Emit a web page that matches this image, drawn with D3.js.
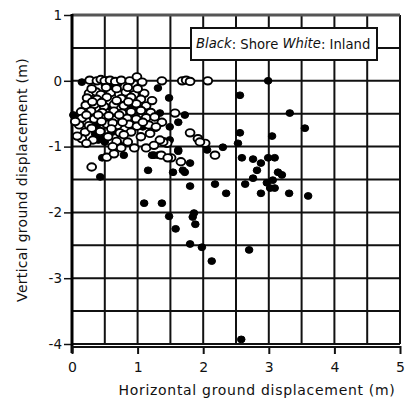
<!DOCTYPE html>
<html>
<head>
<meta charset="utf-8">
<script src="https://cdn.jsdelivr.net/npm/d3@7"></script>
<style>
  html, body { margin: 0; padding: 0; background: #fff; }
  svg { display: block; }
  text { font-family: "DejaVu Sans", Verdana, sans-serif; fill: #111; }
</style>
</head>
<body>
<svg id="chart" width="406" height="408"></svg>
<script>
// ---- data (metres) ----
const xTicks = [0, 1, 2, 3, 4, 5];
const yTicks = [1, 0, -1, -2, -3, -4];
const legendParts = [
  { t: "Black", italic: true },
  { t: ": Shore ", italic: false },
  { t: "White", italic: true },
  { t: ": Inland", italic: false }
];
const xLabel = "Horizontal ground displacement (m)";
const yLabel = "Vertical ground displacement (m)";

// Shore (black) points: [horizontal, vertical]
const shore = [
  [0.15,-0.02],[0.53,0.01],[0.61,-0.02],[0.70,-0.05],[0.50,-0.06],[0.62,-0.12],
  [1.31,-0.11],[2.99,0.0],[1.48,-0.26],[2.56,-0.22],[1.34,-0.49],[1.72,-0.52],
  [3.32,-0.49],[1.62,-0.63],[1.27,-0.72],[2.56,-0.79],[3.05,-0.84],[3.55,-0.72],
  [1.49,-0.90],[2.30,-1.01],[2.06,-1.05],[2.53,-0.95],[1.62,-1.07],[1.22,-1.13],
  [1.31,-1.13],[1.80,-1.25],[2.59,-1.17],[2.76,-1.19],[2.88,-1.25],[2.99,-1.17],
  [3.09,-1.17],[2.82,-1.36],[1.54,-1.39],[1.69,-1.36],[3.14,-1.39],[3.20,-1.43],
  [2.76,-1.48],[2.64,-1.57],[2.97,-1.55],[3.06,-1.51],[3.02,-1.63],[3.09,-1.63],
  [2.88,-1.71],[3.31,-1.71],[3.60,-1.75],[1.80,-1.60],[2.18,-1.57],[2.35,-1.71],
  [1.10,-1.86],[1.37,-1.86],[1.48,-2.06],[1.86,-2.01],[1.84,-2.07],[1.88,-2.18],
  [1.58,-2.25],[1.80,-2.48],[1.98,-2.53],[2.70,-2.57],[2.58,-3.93],[2.13,-2.74],
  [0.84,-0.29],[0.91,-0.37],[1.01,-0.44],[0.05,-0.57],[0.38,-0.67],[1.04,-0.63],
  [1.08,-0.70],[1.49,-0.70],[0.40,-0.90],[0.50,-0.93],[0.61,-0.78],[0.96,-1.02],
  [0.79,-1.13],[1.62,-1.05],[0.43,-1.46],[1.16,-1.36],[0.44,-0.87],[0.46,-1.17],
  [1.25,-1.13],[1.72,-1.39],[0.02,-0.52],[0.58,-0.40],[0.35,-0.80],[0.72,-0.97]
];

// Inland (white) points: [horizontal, vertical]
const inland = [
  [0.27,0.01],[0.38,0.0],[0.44,0.02],[0.50,0.0],[0.58,0.01],[0.66,-0.01],[0.75,0.01],
  [0.88,0.0],[0.99,0.06],[1.07,-0.02],[1.37,0.0],[1.68,0.0],[1.74,0.01],[1.80,-0.01],[2.07,0.0],
  [0.26,-0.19],[0.37,-0.17],[0.44,-0.21],[0.59,-0.18],[0.72,-0.20],[0.82,-0.17],[0.95,-0.21],[1.10,-0.19],
  [0.23,-0.26],[0.38,-0.28],[0.53,-0.25],[0.75,-0.27],[0.90,-0.25],[1.05,-0.28],
  [0.21,-0.37],[0.34,-0.36],[0.49,-0.39],[0.64,-0.36],[0.79,-0.38],[0.98,-0.35],[1.13,-0.38],
  [0.14,-0.47],[0.29,-0.46],[0.46,-0.48],[0.64,-0.46],[0.76,-0.49],[0.90,-0.47],[1.05,-0.45],[1.20,-0.48],
  [0.15,-0.57],[0.34,-0.58],[0.52,-0.56],[0.64,-0.59],[0.84,-0.57],[0.98,-0.58],[1.13,-0.56],
  [0.11,-0.67],[0.26,-0.68],[0.53,-0.66],[0.69,-0.68],[0.87,-0.66],[0.99,-0.69],[1.17,-0.67],
  [0.20,-0.78],[0.43,-0.77],[0.73,-0.79],[0.90,-0.78],[1.19,-0.80],
  [0.15,-0.88],[0.32,-0.90],[0.53,-1.16],[0.64,-1.11],[0.30,-1.31],[0.95,-1.02],[1.13,-1.02],
  [1.36,-1.13],[1.40,-0.93],[1.45,-0.95],[1.51,-1.17],[1.66,-1.23],[1.57,-0.49],[1.37,-0.63],
  [1.80,-0.79],[1.39,-0.93],[1.92,-0.88],[2.03,-0.95],[2.18,-1.13],[1.46,-1.17],[1.34,-0.90],
  [1.95,-0.93],[0.79,-0.82],[0.68,-0.92],[0.85,-0.93],
  [0.30,-0.12],[0.52,-0.10],[0.68,-0.12],[0.85,-0.10],[1.00,-0.12],
  [0.31,-0.32],[0.45,-0.33],[0.68,-0.30],[0.86,-0.32],[1.22,-0.30],
  [0.22,-0.52],[0.40,-0.52],[0.56,-0.53],[0.72,-0.52],[1.26,-0.55],
  [0.05,-0.62],[0.45,-0.62],[0.62,-0.64],[0.77,-0.63],[1.08,-0.63],
  [0.30,-0.72],[0.60,-0.73],[1.28,-0.70],
  [0.08,-0.84],[0.55,-0.85],[1.05,-0.85],
  [0.22,-0.95],[0.62,-1.00],[0.75,-1.02],[1.25,-0.98]
];

// ---- layout ----
const svg = d3.select("#chart");
const x = d3.scaleLinear().domain([0, 5]).range([72, 400]);
const y = d3.scaleLinear().domain([-4, 1]).range([344, 15]);

const gridVals = d3.range(0, 5.01, 0.5);
const gridValsY = d3.range(-4, 1.01, 0.5);

// grid
const grid = svg.append("g");
grid.selectAll("line.v").data(gridVals).join("line")
  .attr("x1", d => x(d)).attr("x2", d => x(d))
  .attr("y1", y(1)).attr("y2", y(-4))
  .attr("stroke", "#111").attr("stroke-width", 2);
grid.selectAll("line.h").data(gridValsY).join("line")
  .attr("x1", x(0)).attr("x2", x(5))
  .attr("y1", d => y(d)).attr("y2", d => y(d))
  .attr("stroke", d => d === 1 ? "#555" : "#111")
  .attr("stroke-width", d => d === 1 ? 3 : 2);

// axes
const yAxis = d3.axisLeft(y).tickValues(yTicks).tickSize(8).tickPadding(2)
  .tickFormat(d => d3.format("d")(d).replace("−", "-"));
const gy = svg.append("g").attr("transform", `translate(${x(0)},0)`).call(yAxis);
gy.select(".domain").remove();
gy.selectAll(".tick line").attr("stroke", "#111").attr("stroke-width", 1.5);
gy.selectAll(".tick text").attr("font-size", 13.5).attr("fill", "#111")
  .attr("font-family", "DejaVu Sans, sans-serif");
svg.append("line").attr("x1", x(0)).attr("x2", x(0))
  .attr("y1", y(1) - 1).attr("y2", y(-4) + 9)
  .attr("stroke", "#000").attr("stroke-width", 3);

const xAxis = d3.axisBottom(x).tickValues(xTicks).tickSize(8).tickPadding(8)
  .tickFormat(d3.format("d"));
const gx = svg.append("g").attr("transform", `translate(0,${y(-4) + 2})`).call(xAxis);
gx.select(".domain").remove();
gx.selectAll(".tick line").attr("stroke", "#111").attr("stroke-width", 2);
gx.selectAll(".tick text").attr("font-size", 14).attr("fill", "#111")
  .attr("font-family", "DejaVu Sans, sans-serif");
svg.append("line").attr("x1", x(0)).attr("x2", x(5) + 1)
  .attr("y1", y(-4) + 3).attr("y2", y(-4) + 3)
  .attr("stroke", "#111").attr("stroke-width", 2);

// points
svg.append("g").selectAll("ellipse").data(shore).join("ellipse")
  .attr("cx", d => x(d[0])).attr("cy", d => y(d[1]))
  .attr("rx", 3.8).attr("ry", 3.4)
  .attr("fill", "#000").attr("stroke", "#000").attr("stroke-width", 1);
svg.append("g").selectAll("ellipse").data(inland).join("ellipse")
  .attr("cx", d => x(d[0])).attr("cy", d => y(d[1]))
  .attr("rx", 4.4).attr("ry", 3.7)
  .attr("fill", "#fff").attr("stroke", "#000").attr("stroke-width", 1.9);

// legend
const lg = svg.append("g");
lg.append("rect").attr("x", 191).attr("y", 28).attr("width", 186).attr("height", 32)
  .attr("fill", "#fff").attr("stroke", "#111").attr("stroke-width", 2);
const lt = lg.append("text").attr("x", 196).attr("y", 49).attr("font-size", 13.2);
lt.selectAll("tspan").data(legendParts).join("tspan")
  .attr("font-style", d => d.italic ? "italic" : "normal")
  .attr("dy", d => d.italic ? -1 : 1)
  .text(d => d.t);

// axis titles
svg.append("text").attr("x", 257).attr("y", 395).attr("text-anchor", "middle")
  .attr("font-size", 14).attr("letter-spacing", 0.7).text(xLabel);
svg.append("text").attr("transform", `translate(27,180) rotate(-90)`)
  .attr("text-anchor", "middle").attr("font-size", 14).attr("letter-spacing", 0.3).text(yLabel);
</script>
</body>
</html>
